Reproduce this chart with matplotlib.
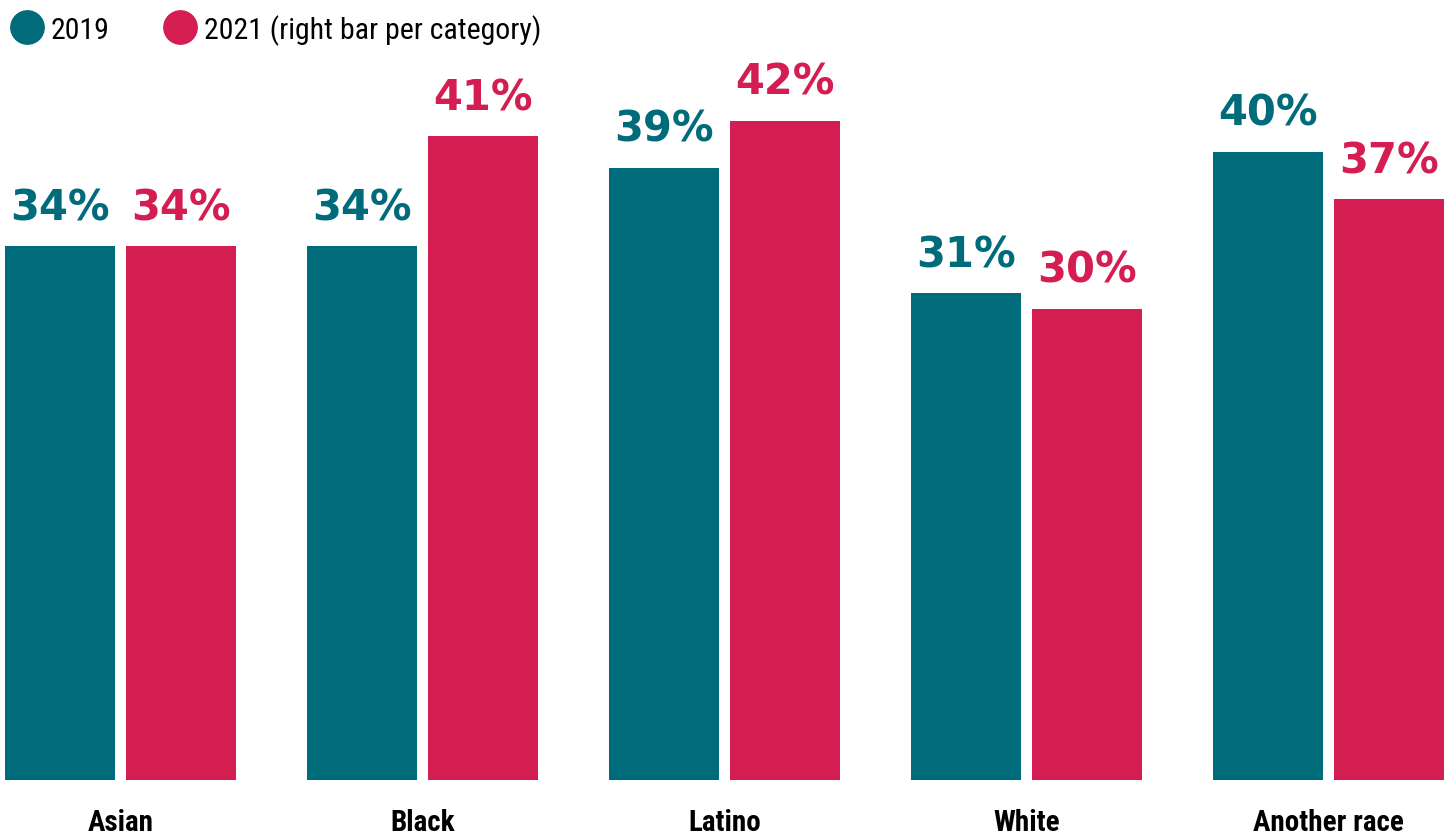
import matplotlib
matplotlib.use("Agg")
import matplotlib.pyplot as plt
from matplotlib.lines import Line2D
from matplotlib import font_manager
import numpy as np

categories = ["Asian", "Black", "Latino", "White", "Another race"]
values_2019 = [34, 34, 39, 31, 40]
values_2021 = [34, 41, 42, 30, 37]
series_labels = ["2019", "2021 (right bar per category)"]

teal = "#006B7A"
crimson = "#D41E52"

fonts = font_manager.fontManager.ttflist
names = {f.name for f in fonts}
narrow = "DejaVu Sans"
for cand in ["Roboto Condensed", "Liberation Sans Narrow", "Open Sans Condensed", "Noto Sans Condensed"]:
    if cand in names:
        narrow = cand
        break

W, H = 1452, 837
fig = plt.figure(figsize=(W / 100, H / 100), dpi=100)
bottom_px, top_px = 781, 781 - 15.7 * 46
ax = fig.add_axes([5 / W, (H - bottom_px) / H, (1446 - 5) / W, (bottom_px - top_px) / H])

x = np.arange(len(categories))
bw = 0.364
off = 0.2
b1 = ax.bar(x - off, values_2019, bw, color=teal)
b2 = ax.bar(x + off, values_2021, bw, color=crimson)

for bars, vals, col in ((b1, values_2019, teal), (b2, values_2021, crimson)):
    for rect, v in zip(bars, vals):
        ax.annotate(f"{v}%", (rect.get_x() + rect.get_width() / 2, v),
                    xytext=(0, 13), textcoords="offset points",
                    ha="center", va="bottom", fontsize=30, fontweight="bold",
                    family="DejaVu Sans", color=col)

ax.set_xlim(-0.382, 4.389)
ax.set_ylim(0, 46)
ax.set_xticks(x)
ax.set_xticklabels(categories, fontsize=21, fontweight="bold", family=narrow,
                   fontstretch="condensed")
ax.tick_params(axis="x", length=0, pad=20)
ax.set_yticks([])
for s in ax.spines.values():
    s.set_visible(False)

handles = [Line2D([], [], marker="o", ls="", markersize=24, color=teal),
           Line2D([], [], marker="o", ls="", markersize=24, color=crimson)]
leg = fig.legend(handles, series_labels, loc="upper left", bbox_to_anchor=(-0.004, 1.0),
                 frameon=False, ncol=2,
                 prop={"family": narrow, "size": 21.5, "stretch": "condensed"},
                 handletextpad=0.2, columnspacing=1.75, borderaxespad=0.1,
                 handlelength=1.2)

fig.savefig("out.png", dpi=100)
